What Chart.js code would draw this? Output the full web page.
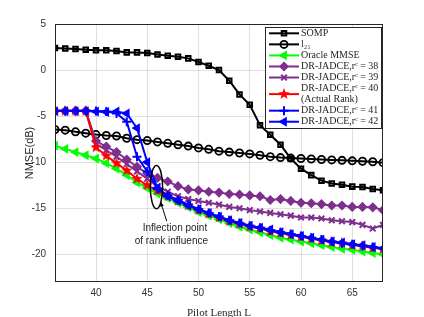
<!DOCTYPE html>
<html>
<head>
<meta charset="utf-8">
<script src="https://cdn.jsdelivr.net/npm/chart.js@4.4.1/dist/chart.umd.min.js"></script>
<style>
html, body { margin: 0; padding: 0; background: #fff; }
</style>
</head>
<body>
<canvas id="chartCanvas" width="424" height="317"></canvas>
<script>
// Pilot length axis
const pilotLength = [36, 37, 38, 39, 40, 41, 42, 43, 44, 45, 46, 47, 48, 49, 50, 51, 52,
    53, 54, 55, 56, 57, 58, 59, 60, 61, 62, 63, 64, 65, 66, 67, 68];
const xTicks = [40, 45, 50, 55, 60, 65];
const yTicks = [5, 0, -5, -10, -15, -20];

// NMSE (dB) per method
const somp = [2.4, 2.35, 2.28, 2.2, 2.14, 2.14, 2.07, 1.92, 1.92, 1.85, 1.7, 1.56, 1.45, 1.27, 0.87, 0.47, 0.0,
    -1.16, -2.64, -3.77, -5.98, -7.03, -8.1, -9.6, -10.7, -11.4, -12.0, -12.3, -12.45, -12.65, -12.7, -12.9, -13.05];
const l21 = [-6.45, -6.52, -6.7, -6.85, -7.0, -7.1, -7.15, -7.4, -7.55, -7.65, -7.8, -7.95, -8.1, -8.25, -8.45, -8.6, -8.8,
    -8.9, -9.0, -9.1, -9.25, -9.4, -9.5, -9.55, -9.6, -9.65, -9.7, -9.75, -9.8, -9.85, -9.9, -9.95, -10.05];
const oracle = [-8.2, -8.55, -8.9, -9.25, -9.6, -10.1, -10.7, -11.4, -12.2, -12.8, -13.4, -13.9, -14.4, -14.9, -15.4, -15.8, -16.2,
    -16.6, -17.0, -17.3, -17.6, -17.9, -18.2, -18.4, -18.6, -18.8, -19.0, -19.2, -19.4, -19.5, -19.7, -19.85, -20.0];
const rank38 = [-4.45, -4.45, -4.45, -4.45, -7.7, -8.3, -8.9, -9.7, -10.5, -11.2, -11.7, -12.1, -12.6, -12.95, -13.05, -13.2, -13.3,
    -13.45, -13.5, -13.6, -13.7, -14.1, -14.0, -14.2, -14.4, -14.45, -14.55, -14.7, -14.7, -14.85, -14.85, -14.9, -15.2];
const rank39 = [-4.45, -4.45, -4.45, -4.45, -8.0, -8.7, -9.4, -10.2, -11.0, -11.8, -12.6, -13.2, -13.7, -14.0, -14.2, -14.4, -14.6,
    -14.85, -15.0, -15.2, -15.35, -15.5, -15.65, -15.8, -16.0, -16.0, -16.1, -16.3, -16.4, -16.5, -16.8, -17.2, -16.8];
const rank40 = [-4.45, -4.45, -4.45, -4.45, -8.4, -9.3, -10.1, -10.9, -11.8, -12.5, -13.1, -13.7, -14.2, -14.7, -15.2, -15.6, -16.0,
    -16.4, -16.7, -17.0, -17.2, -17.5, -17.7, -17.9, -18.1, -18.3, -18.5, -18.7, -18.8, -19.0, -19.1, -19.3, -19.4];
const rank41 = [-4.45, -4.45, -4.45, -4.45, -4.45, -4.5, -4.7, -5.6, -9.4, -11.0, -12.9, -13.6, -14.1, -14.6, -15.1, -15.5, -15.9,
    -16.3, -16.6, -16.9, -17.1, -17.4, -17.6, -17.8, -18.0, -18.2, -18.4, -18.6, -18.8, -18.9, -19.1, -19.2, -19.4];
const rank42 = [-4.45, -4.45, -4.45, -4.45, -4.5, -4.55, -4.5, -4.7, -6.3, -10.0, -12.8, -13.7, -14.2, -14.7, -15.1, -15.5, -15.9,
    -16.3, -16.6, -16.9, -17.1, -17.3, -17.6, -17.8, -18.0, -18.2, -18.4, -18.6, -18.7, -18.9, -19.0, -19.2, -19.35];

const SERIF = '"Liberation Serif", "DejaVu Serif", serif';
const SANS = '"Liberation Sans", Arial, sans-serif';
const AXIS_COLOR = '#262626';

function starImage(size, color) {
    const c = document.createElement('canvas');
    c.width = c.height = size;
    const g = c.getContext('2d');
    const R = size / 2, r = R * 0.42;
    g.beginPath();
    for (let i = 0; i < 10; i++) {
        const a = -Math.PI / 2 + i * Math.PI / 5;
        const rad = i % 2 ? r : R;
        g.lineTo(R + rad * Math.cos(a), R + rad * Math.sin(a));
    }
    g.closePath();
    g.fillStyle = color;
    g.fill();
    return c;
}
const redStar = starImage(12, '#ff0000');

function series(label, data, color, style, opts = {}) {
    return Object.assign({
        label: label,
        data: data,
        borderColor: color,
        backgroundColor: color,
        borderWidth: 2,
        pointStyle: style,
        pointRadius: 3.5,
        pointBorderWidth: 1.5,
        pointBorderColor: color,
        pointBackgroundColor: color,
        pointRotation: 0,
        tension: 0
    }, opts);
}

const datasets = [
    series('SOMP', somp, '#000000', 'rect', { pointBackgroundColor: 'rgba(0,0,0,0)', pointRadius: 3.2, pointBorderWidth: 2 }),
    series('l₂₁', l21, '#000000', 'circle', { pointBackgroundColor: 'rgba(0,0,0,0)', pointRadius: 3.6, pointBorderWidth: 1.8 }),
    series('Oracle MMSE', oracle, '#00ff00', 'triangle', { pointRotation: -90, pointRadius: 4.2 }),
    series('DR-JADCE,rᶜ = 38', rank38, '#7e2f8e', 'rectRot', { pointRadius: 4 }),
    series('DR-JADCE,rᶜ = 39', rank39, '#7e2f8e', 'crossRot', { pointRadius: 4, pointBorderWidth: 2 }),
    series(['DR-JADCE,rᶜ = 40', '(Actual Rank)'], rank40, '#ff0000', redStar),
    series('DR-JADCE,rᶜ = 41', rank41, '#0000ff', 'cross', { pointRadius: 4.5, pointBorderWidth: 2 }),
    series('DR-JADCE,rᶜ = 42', rank42, '#0000ff', 'triangle', { pointRotation: -90, pointRadius: 4.2 })
];
// MATLAB draws later lines on top
datasets.forEach((d, i) => { d.order = -i; });

// annotation in data units
const noteEllipse = { x: 45.9, y: -12.7, rx: 0.6, ry: 2.35 };
const noteArrow = { fromX: 46.9, fromY: -16.4, toX: 46.3, toY: -14.3 };
const noteText = [
    { text: 'Inflection point', x: 47.7, y: -17.2 },
    { text: 'of rank influence', x: 47.35, y: -18.55 }
];

const decorations = {
    id: 'decorations',
    afterDatasetsDraw(chart) {
        const { ctx, chartArea: a, scales: { x, y } } = chart;
        ctx.save();
        // annotation ellipse + arrow
        ctx.strokeStyle = '#000';
        ctx.lineWidth = 1.5;
        const cx = x.getPixelForValue(noteEllipse.x), cy = y.getPixelForValue(noteEllipse.y);
        const rx = Math.abs(x.getPixelForValue(noteEllipse.x + noteEllipse.rx) - cx);
        const ry = Math.abs(y.getPixelForValue(noteEllipse.y + noteEllipse.ry) - cy);
        ctx.beginPath();
        ctx.ellipse(cx, cy, rx, ry, 0, 0, Math.PI * 2);
        ctx.stroke();
        const x0 = x.getPixelForValue(noteArrow.fromX), y0 = y.getPixelForValue(noteArrow.fromY);
        const x1 = x.getPixelForValue(noteArrow.toX), y1 = y.getPixelForValue(noteArrow.toY);
        ctx.lineWidth = 1;
        ctx.beginPath();
        ctx.moveTo(x0, y0);
        ctx.lineTo(x1, y1);
        ctx.stroke();
        const ang = Math.atan2(y1 - y0, x1 - x0);
        ctx.fillStyle = '#000';
        ctx.beginPath();
        ctx.moveTo(x1, y1);
        ctx.lineTo(x1 - 5 * Math.cos(ang - 0.4), y1 - 5 * Math.sin(ang - 0.4));
        ctx.lineTo(x1 - 5 * Math.cos(ang + 0.4), y1 - 5 * Math.sin(ang + 0.4));
        ctx.closePath();
        ctx.fill();
        ctx.font = '10px ' + SANS;
        ctx.fillStyle = '#262626';
        ctx.textAlign = 'center';
        ctx.textBaseline = 'middle';
        noteText.forEach(t => ctx.fillText(t.text, x.getPixelForValue(t.x), y.getPixelForValue(t.y)));

        // axes box
        ctx.strokeStyle = AXIS_COLOR;
        ctx.lineWidth = 1;
        ctx.strokeRect(a.left + 0.5, a.top + 0.5, a.right - a.left - 1, a.bottom - a.top - 1);

        // legend box
        const lx = a.right - 118, ly = a.top + 3, lw = 117, lh = 102;
        const step = 11.05;
        ctx.fillStyle = '#fff';
        ctx.fillRect(lx, ly, lw, lh);
        ctx.strokeRect(lx + 0.5, ly + 0.5, lw - 1, lh - 1);
        ctx.font = '10px ' + SERIF;
        ctx.textAlign = 'left';
        ctx.textBaseline = 'middle';
        let rowY = ly + 0.8;
        chart.data.datasets.forEach(ds => {
            const lines = Array.isArray(ds.label) ? ds.label : [ds.label];
            const rowH = lines.length * step;
            const my = rowY + rowH / 2;
            ctx.strokeStyle = ds.borderColor;
            ctx.lineWidth = 2;
            ctx.beginPath();
            ctx.moveTo(lx + 4, my);
            ctx.lineTo(lx + 34, my);
            ctx.stroke();
            ctx.fillStyle = ds.pointBackgroundColor;
            ctx.strokeStyle = ds.pointBorderColor;
            ctx.lineWidth = ds.pointBorderWidth;
            Chart.helpers.drawPoint(ctx, {
                pointStyle: ds.pointStyle,
                radius: ds.pointRadius,
                rotation: ds.pointRotation,
                borderWidth: ds.pointBorderWidth
            }, lx + 19, my);
            ctx.fillStyle = '#262626';
            lines.forEach((t, k) => ctx.fillText(t, lx + 36, rowY + step / 2 + k * step));
            rowY += rowH;
        });
        ctx.restore();
    }
};

new Chart(document.getElementById('chartCanvas').getContext('2d'), {
    type: 'line',
    data: {
        labels: pilotLength,
        datasets: datasets
    },
    options: {
        responsive: false,
        animation: false,
        devicePixelRatio: 1,
        layout: { padding: { left: 0, right: 41, top: 24, bottom: 0 } },
        plugins: {
            legend: { display: false },
            tooltip: { enabled: false }
        },
        scales: {
            x: {
                type: 'linear',
                min: 36,
                max: 68,
                afterBuildTicks: scale => { scale.ticks = xTicks.map(v => ({ value: v })); },
                afterFit: scale => { scale.height = 35; },
                grid: { color: 'rgba(0,0,0,0.12)', drawTicks: false },
                border: { display: false },
                ticks: { padding: 5, color: '#333', font: { family: SANS, size: 10 } },
                title: {
                    display: true,
                    text: 'Pilot Length L',
                    color: '#262626',
                    padding: { top: 0, bottom: -3 },
                    font: { family: SERIF, size: 11 }
                }
            },
            y: {
                min: -23,
                max: 5,
                afterBuildTicks: scale => { scale.ticks = yTicks.map(v => ({ value: v })); },
                afterFit: scale => { scale.width = 55; },
                grid: { color: 'rgba(0,0,0,0.12)', drawTicks: false },
                border: { display: false },
                ticks: { padding: 9, color: '#333', font: { family: SANS, size: 10 } },
                title: {
                    display: true,
                    text: 'NMSE(dB)',
                    color: '#262626',
                    padding: { top: 23, bottom: 0 },
                    font: { family: SANS, size: 11 }
                }
            }
        }
    },
    plugins: [decorations]
});
</script>
</body>
</html>
